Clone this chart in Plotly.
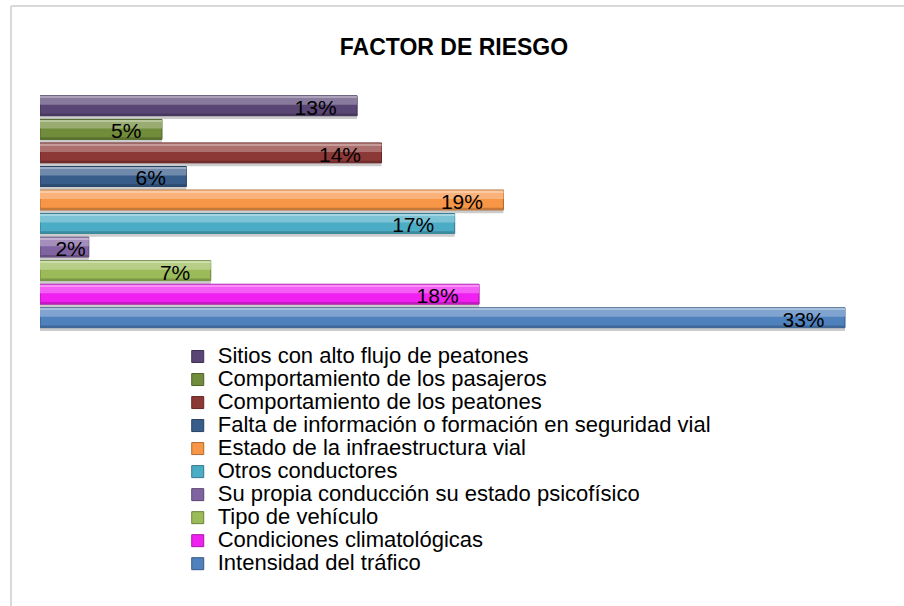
import plotly.graph_objects as go

# Risk factors, listed from the top bar to the bottom bar
factors = [
    "Sitios con alto flujo de peatones",
    "Comportamiento de los pasajeros",
    "Comportamiento de los peatones",
    "Falta de información o formación en seguridad vial",
    "Estado de la infraestructura vial",
    "Otros conductores",
    "Su propia conducción su estado psicofísico",
    "Tipo de vehículo",
    "Condiciones climatológicas",
    "Intensidad del tráfico",
]
percentages = [13, 5, 14, 6, 19, 17, 2, 7, 18, 33]
colors = [
    "#5A4675", "#718C3A", "#8C3836", "#385D8A", "#F79646",
    "#4BACC6", "#8064A2", "#9BBB59", "#F020F0", "#4F81BD",
]

FONT = "Arial, Liberation Sans, sans-serif"
BAR_W = 0.845
BAR_OFF = -BAR_W / 2


def mix(hex_color, other, t):
    h = hex_color.lstrip("#")
    r, g, b = (int(h[i:i + 2], 16) for i in (0, 2, 4))
    o = 255 if other == "white" else 0
    r, g, b = (round(c + (o - c) * t) for c in (r, g, b))
    return f"rgb({r},{g},{b})"


# bottom bar first on the category axis
cat_order = factors[::-1]

fig = go.Figure()

# soft drop shadow under each bar
fig.add_trace(go.Bar(
    y=factors, x=percentages, orientation="h",
    width=BAR_W, offset=BAR_OFF - 0.14,
    marker=dict(color="rgba(0,0,0,0.2)", line=dict(width=0)),
    showlegend=False, hoverinfo="skip",
))

# main bars, one trace per factor for the legend
for name, val, col in zip(factors, percentages, colors):
    fig.add_trace(go.Bar(
        y=[name], x=[val], orientation="h",
        width=BAR_W, offset=BAR_OFF,
        name=f'<span style="font-size:22px">{name}</span>',
        marker=dict(color=col, line=dict(color=mix(col, "black", 0.3), width=1)),
        hoverinfo="x+y",
    ))

# bevel: lighter upper band, bright top rim, dark lower rim
fig.add_trace(go.Bar(
    y=factors, x=percentages, orientation="h",
    width=0.33, offset=0.04,
    marker=dict(color=[mix(c, "white", 0.28) for c in colors], line=dict(width=0)),
    showlegend=False, hoverinfo="skip",
))
fig.add_trace(go.Bar(
    y=factors, x=percentages, orientation="h",
    width=0.07, offset=0.33,
    marker=dict(color=[mix(c, "white", 0.5) for c in colors], line=dict(width=0)),
    showlegend=False, hoverinfo="skip",
))
fig.add_trace(go.Bar(
    y=factors, x=percentages, orientation="h",
    width=0.08, offset=BAR_OFF + 0.01,
    marker=dict(color=[mix(c, "black", 0.2) for c in colors], line=dict(width=0)),
    showlegend=False, hoverinfo="skip",
))

# value labels at the inner end of each bar
labels = [f"{v}%" + ("\u00a0\u00a0\u00a0" if v >= 5 else "") for v in percentages]
fig.add_trace(go.Bar(
    y=factors, x=percentages, orientation="h",
    width=BAR_W, offset=BAR_OFF - 0.06,
    marker=dict(color="rgba(0,0,0,0)", line=dict(width=0)),
    text=labels, textposition="inside", insidetextanchor="end",
    constraintext="none", cliponaxis=False,
    textfont=dict(family=FONT, size=21, color="#000000"),
    showlegend=False, hoverinfo="skip",
))

ml, mr, mt, mb = 40, 24, 94, 275
W, H = 904, 606
pw, ph = W - ml - mr, H - mt - mb


def px_x(p):
    return (p - ml) / pw


def px_y(p):
    return (H - mb - p) / ph


frame = dict(color="#D9D9D9", width=2)
shapes = [
    dict(type="line", xref="paper", yref="paper",
         x0=px_x(11), x1=px_x(904), y0=px_y(6), y1=px_y(6), line=frame),
    dict(type="line", xref="paper", yref="paper",
         x0=px_x(11), x1=px_x(11), y0=px_y(6), y1=px_y(606), line=frame),
]

fig.update_layout(
    width=W, height=H, autosize=False,
    margin=dict(l=ml, r=mr, t=mt, b=mb, autoexpand=False),
    paper_bgcolor="white", plot_bgcolor="white",
    barmode="overlay", bargap=0.155,
    font=dict(family=FONT, color="#000000"),
    title=dict(
        text="<b>FACTOR DE RIESGO</b>",
        x=454 / W, xref="container", xanchor="center",
        y=1 - 47 / H, yref="container", yanchor="middle",
        font=dict(family=FONT, size=23, color="#000000"),
    ),
    xaxis=dict(range=[0, 33 * pw / 805], visible=False, fixedrange=True),
    yaxis=dict(type="category", categoryorder="array", categoryarray=cat_order,
               visible=False, fixedrange=True),
    legend=dict(
        orientation="v", traceorder="normal",
        x=0.1966, xref="container", xanchor="left",
        y=1 - 340 / H, yref="container", yanchor="top",
        font=dict(family=FONT, size=15.4, color="#000000"),
        bgcolor="rgba(0,0,0,0)",
    ),
    shapes=shapes,
)

fig.write_html("out.html")
